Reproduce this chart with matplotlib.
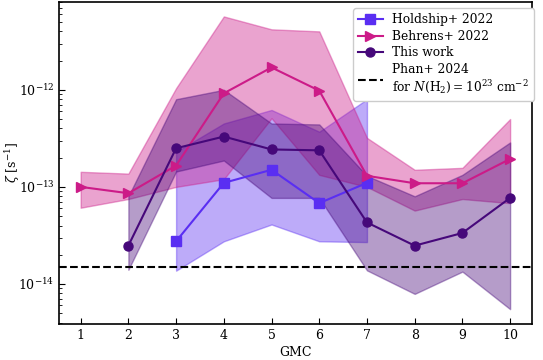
import numpy as np
import matplotlib.pyplot as plt
from matplotlib.ticker import NullFormatter

plt.rcParams['font.family'] = 'DejaVu Serif'
plt.rcParams['mathtext.fontset'] = 'dejavuserif'

gmc = [1, 2, 3, 4, 5, 6, 7, 8, 9, 10]

# Holdship+ 2022 (GMC 3-7)
hold_x = [3, 4, 5, 6, 7]
hold_val = [2.75e-14, 1.1e-13, 1.5e-13, 6.8e-14, 1.1e-13]
hold_lo = [1.37e-14, 2.75e-14, 4.1e-14, 2.75e-14, 2.7e-14]
hold_hi = [2.3e-13, 4.5e-13, 6.2e-13, 3.7e-13, 8.0e-13]

# Behrens+ 2022
beh_val = [1.0e-13, 8.6e-14, 1.66e-13, 9.2e-13, 1.7e-12, 9.8e-13, 1.3e-13, 1.09e-13, 1.09e-13, 1.94e-13]
beh_lo = [6.1e-14, 7.5e-14, 1.0e-13, 1.2e-13, 5.1e-13, 1.33e-13, 1.0e-13, 5.7e-14, 7.5e-14, 6.8e-14]
beh_hi = [1.43e-13, 1.37e-13, 1.04e-12, 5.7e-12, 4.2e-12, 4.0e-12, 3.2e-13, 1.5e-13, 1.57e-13, 5.0e-13]

# This work (GMC 2-10)
tw_x = [2, 3, 4, 5, 6, 7, 8, 9, 10]
tw_val = [2.48e-14, 2.5e-13, 3.3e-13, 2.43e-13, 2.38e-13, 4.3e-14, 2.48e-14, 3.35e-14, 7.7e-14]
tw_lo = [1.4e-14, 1.44e-13, 1.87e-13, 7.7e-14, 7.7e-14, 1.38e-14, 7.9e-15, 1.34e-14, 5.5e-15]
tw_hi = [8.0e-14, 8.0e-13, 1.0e-12, 4.5e-13, 4.4e-13, 1.3e-13, 8.0e-14, 1.33e-13, 2.87e-13]

phan = 1.5e-14

c_hold = '#5a2ef2'
c_beh = '#cc1b88'
c_tw = '#46087a'

fig = plt.figure(figsize=(5.43, 3.6), dpi=100)
ax = fig.add_axes([0.109, 0.101, 0.870, 0.893])

ax.fill_between(hold_x, hold_lo, hold_hi, color=c_hold, alpha=0.4)
ax.fill_between(gmc, beh_lo, beh_hi, color=c_beh, alpha=0.4)
ax.fill_between(tw_x, tw_lo, tw_hi, color=c_tw, alpha=0.4)

ax.plot(hold_x, hold_val, color=c_hold, marker='s', ms=6.5, lw=1.5, label='Holdship+ 2022')
ax.plot(gmc, beh_val, color=c_beh, marker='>', ms=6.5, lw=1.5, label='Behrens+ 2022')
ax.plot(tw_x, tw_val, color=c_tw, marker='o', ms=6.5, lw=1.5, label='This work')
ax.axhline(phan, color='black', ls='--', lw=1.5,
           label='Phan+ 2024\nfor $N(\\mathrm{H_2}) = 10^{23}$ cm$^{-2}$')

ax.set_yscale('log')
ax.set_ylim(3.9e-15, 8.0e-12)
ax.yaxis.set_minor_formatter(NullFormatter())
ax.set_xticks(gmc)
ax.set_xlabel('GMC', fontsize=9, labelpad=3)
ax.set_ylabel('$\\zeta$ [s$^{-1}$]', fontsize=9)
ax.yaxis.set_label_coords(-0.078, 0.5)
ax.tick_params(direction='in', which='both', labelsize=9)
ax.tick_params(which='major', length=4)
ax.tick_params(which='minor', length=2)
for sp in ax.spines.values():
    sp.set_linewidth(1.2)
ax.legend(loc='upper right', bbox_to_anchor=(1.018, 1.0), fontsize=8.8,
          handlelength=2.0, labelspacing=0.3, borderpad=0.4, framealpha=1.0)

fig.savefig('out.png', dpi=100)
